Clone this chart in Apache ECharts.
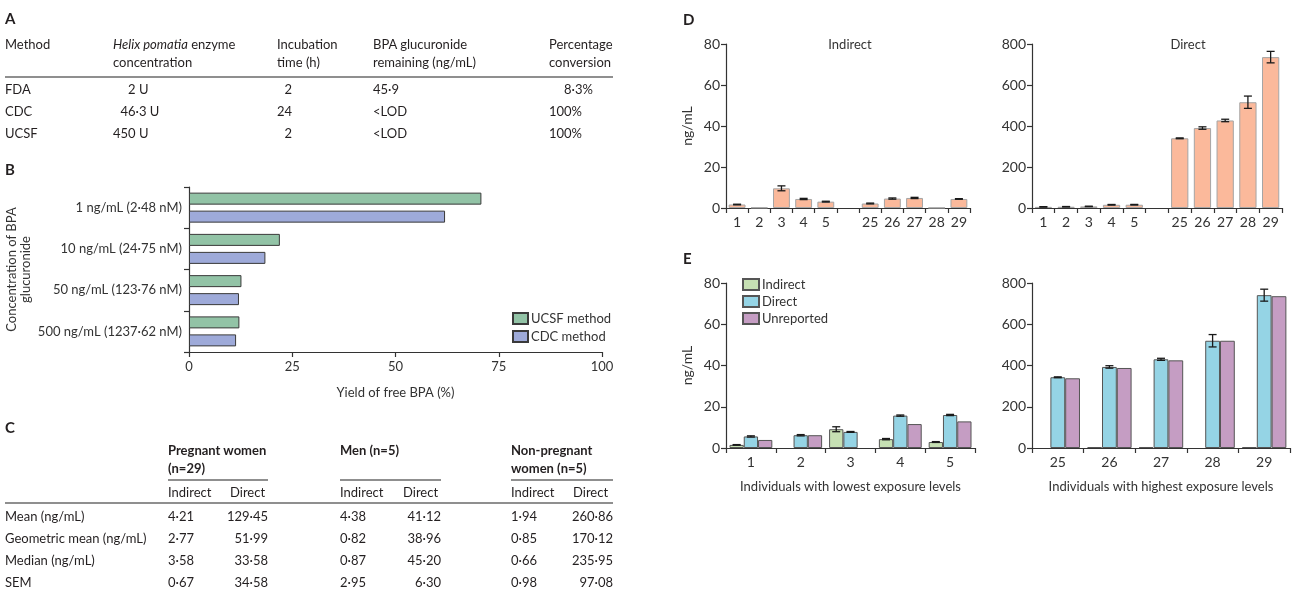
<!DOCTYPE html>
<html lang="en">
<head>
<meta charset="UTF-8">
<title>BPA glucuronide hydrolysis</title>
<style>
  html, body { margin: 0; padding: 0; background: #fff; }
  body { width: 1292px; height: 604px; position: relative; overflow: hidden;
         font-family: Lato, "Noto Sans", sans-serif; color: #231f20; font-size: 13px; }
  #chart { position: absolute; left: 0; top: 0; width: 1292px; height: 604px; }
  .t { position: absolute; white-space: pre; line-height: 16px; }
  .b { font-weight: bold; }
  .letter { position: absolute; font-weight: bold; font-size: 15px; line-height: 18px; }
  .rule { position: absolute; height: 2px; background: #8f8f8f; }
</style>
</head>
<body>
<div id="chart"></div>
<div id="tables"></div>

<script src="https://cdn.jsdelivr.net/npm/echarts@6/dist/echarts.min.js"></script>
<script>
// ---- A: enzyme methods table
var methodHead1 = ['Method', 'Helix pomatia enzyme', 'Incubation', 'BPA glucuronide', 'Percentage'];
var methodHead2 = ['', 'concentration', 'time (h)', 'remaining (ng/mL)', 'conversion'];
var methodRows = [
    ['FDA', '\u2007\u20072 U', '\u20072', '45·9', '\u2007\u20078·3%'],
    ['CDC', '\u200746·3 U', '24', '<LOD', '100%'],
    ['UCSF', '450 U', '\u20072', '<LOD', '100%']
];

// ---- B: yield of free BPA (%)
var concLabels = ['1 ng/mL (2·48 nM)', '10 ng/mL (24·75 nM)', '50 ng/mL (123·76 nM)', '500 ng/mL (1237·62 nM)'];
var ucsfYield = [70.8, 22.0, 12.7, 12.2];
var cdcYield = [62.0, 18.5, 12.1, 11.4];

// ---- C: summary statistics
var statGroups = ['Pregnant women\n(n=29)', 'Men (n=5)', 'Non-pregnant\nwomen (n=5)'];
var statNames = ['Mean (ng/mL)', 'Geometric mean (ng/mL)', 'Median (ng/mL)', 'SEM'];
var statRows = [
    ['4·21', '129·45', '4·38', '41·12', '1·94', '260·86'],
    ['2·77', '51·99', '0·82', '38·96', '0·85', '170·12'],
    ['3·58', '33·58', '0·87', '45·20', '0·66', '235·95'],
    ['0·67', '34·58', '2·95', '6·30', '0·98', '97·08']
];

// ---- D: indirect / direct, per individual
var dCats = ['1', '2', '3', '4', '5', '', '25', '26', '27', '28', '29'];
var dIndirect = [1.7, 0.2, 9.6, 4.4, 3.1, '-', 2.2, 4.6, 4.9, 0.1, 4.4];
var dIndirectErr = [0.15, 0, 1.2, 0.3, 0.2, 0, 0.2, 0.3, 0.3, 0, 0.15];
var dDirect = [5.5, 6.2, 7.8, 15.7, 16.0, '-', 340, 390, 427, 516, 736];
var dDirectErr = [1, 1, 1, 1.5, 1.5, 0, 2, 6, 6, 30, 28];

// ---- E: lowest / highest exposure
var eLowCats = ['1', '2', '3', '4', '5'];
var eLowIndirect = [1.5, '-', 9.1, 4.3, 2.9];
var eLowIndirectErr = [0.15, 0, 1.2, 0.3, 0.2];
var eLowDirect = [5.6, 6.2, 7.8, 15.7, 16.0];
var eLowDirectErr = [0.3, 0.3, 0.2, 0.3, 0.3];
var eLowUnrep = [3.9, 6.2, '-', 11.6, 12.9];

var eHighCats = ['25', '26', '27', '28', '29'];
var eHighIndirect = ['-', 4.6, 4.9, '-', 4.4];
var eHighDirect = [343, 393, 430, 520, 741];
var eHighDirectErr = [2, 6, 5, 30, 29];
var eHighUnrep = [338, 388, 425, 520, 736];

// ================= tables (html text)
var box = document.getElementById('tables');

function put(text, x, y, cls, alignRight) {
    var d = document.createElement('div');
    d.className = 't' + (cls ? ' ' + cls : '');
    d.textContent = text;
    if (alignRight) d.style.right = (1292 - x) + 'px';
    else d.style.left = x + 'px';
    d.style.top = (y - 8) + 'px';
    box.appendChild(d);
    return d;
}
function rule(x1, x2, y) {
    var r = document.createElement('div');
    r.className = 'rule';
    r.style.left = x1 + 'px';
    r.style.width = (x2 - x1) + 'px';
    r.style.top = (y - 1) + 'px';
    box.appendChild(r);
}
function letter(t, x, y) {
    var d = document.createElement('div');
    d.className = 'letter';
    d.textContent = t;
    d.style.left = x + 'px';
    d.style.top = (y - 9) + 'px';
    box.appendChild(d);
}

letter('A', 5, 18);
letter('B', 5, 169);
letter('C', 5, 427);
letter('D', 683, 19);
letter('E', 683, 258);

// table A
var colA = [5, 113, 277, 373, 549];
methodHead1.forEach(function (h, i) {
    var d = put(h, colA[i], 44);
    if (i === 1) d.innerHTML = '<i>Helix pomatia</i> enzyme';
});
methodHead2.forEach(function (h, i) { put(h, colA[i], 62); });
rule(5, 613, 77);
var rowA = [89, 111, 133];
methodRows.forEach(function (row, r) {
    row.forEach(function (c, i) { put(c, colA[i], rowA[r]); });
});

// table C
var grpX = [168, 340, 511];
var grpEnd = [268, 441, 613];
var directX = [230, 403, 573];
statGroups.forEach(function (g, i) {
    var lines = g.split('\n');
    lines.forEach(function (l, k) { put(l, grpX[i], 450 + k * 18, 'b'); });
    rule(grpX[i], grpEnd[i], 480);
    put('Indirect', grpX[i], 492);
    put('Direct', directX[i], 492);
});
rule(5, 613, 503);
var rowC = [516, 538, 560, 582];
statNames.forEach(function (n, r) {
    put(n, 5, rowC[r]);
    for (var g = 0; g < 3; g++) {
        put(statRows[r][g * 2], grpX[g], rowC[r]);
        put(statRows[r][g * 2 + 1], grpEnd[g], rowC[r], '', true);
    }
});

// ================= charts
var ink = '#333';
var font = 'Lato';

function valAxis(grid, max, step, name, size) {
    size = size || 14;
    return {
        type: 'value', gridIndex: grid, min: 0, max: max, interval: step,
        axisLine: { show: true, lineStyle: { color: ink, width: 1.2 } },
        axisTick: { show: true, length: 5, lineStyle: { color: ink, width: 1.2 } },
        splitLine: { show: false },
        axisLabel: { margin: 6, color: ink, fontSize: size, fontFamily: font },
        name: name || '', nameLocation: 'middle', nameRotate: 90, nameGap: 32,
        nameTextStyle: { color: ink, fontSize: 14, fontFamily: font }
    };
}
function catAxis(grid, cats, name, size) {
    size = size || 14;
    return {
        type: 'category', gridIndex: grid, data: cats,
        axisLine: { show: true, lineStyle: { color: ink, width: 1.2 } },
        axisTick: { show: true, length: 5, alignWithLabel: false, lineStyle: { color: ink, width: 1.2 } },
        axisLabel: { margin: 7, interval: 0, color: ink, fontSize: size, fontFamily: font },
        name: name || '', nameLocation: 'middle', nameGap: 32,
        nameTextStyle: { color: ink, fontSize: 13, fontFamily: font }
    };
}

function errorBars(grid, values, errs, nSeries, pos, gapFrac) {
    var data = [];
    values.forEach(function (v, i) {
        if (v === '-' || !errs[i]) return;
        data.push([i, v, errs[i]]);
    });
    return {
        type: 'custom', xAxisIndex: grid, yAxisIndex: grid, z: 10, silent: true,
        encode: { x: 0, y: 1 },
        renderItem: function (params, api) {
            var i = api.value(0), v = api.value(1), e = api.value(2);
            var band = api.size([1, 0])[0];
            var barW = band * (1 - gapFrac) / nSeries;
            var dx = (pos - (nSeries - 1) / 2) * barW;
            var hi = api.coord([i, v + e]);
            var lo = api.coord([i, Math.max(v - e, 0)]);
            var x = hi[0] + dx, h = 4;
            var st = { stroke: '#1a1a1a', lineWidth: 1.3 };
            return {
                type: 'group', children: [
                    { type: 'line', shape: { x1: x, y1: hi[1], x2: x, y2: lo[1] }, style: st },
                    { type: 'line', shape: { x1: x - h, y1: hi[1], x2: x + h, y2: hi[1] }, style: st },
                    { type: 'line', shape: { x1: x - h, y1: lo[1], x2: x + h, y2: lo[1] }, style: st }
                ]
            };
        },
        data: data
    };
}

var salmon = { color: '#fbb99b', borderColor: '#a5a5a5', borderWidth: 1 };
var cGreen = { color: '#c6e0b3', borderColor: '#555', borderWidth: 1 };
var cBlue = { color: '#95d4e5', borderColor: '#555', borderWidth: 1 };
var cPurple = { color: '#c59dc3', borderColor: '#555', borderWidth: 1 };

function eBar(name, grid, data, style) {
    return {
        name: name, type: 'bar', xAxisIndex: grid, yAxisIndex: grid, data: data,
        barGap: '0%', barCategoryGap: '14%', itemStyle: style
    };
}

var bY = catAxis(0, concLabels, '', 13);
bY.inverse = true;
bY.name = 'Concentration of BPA\nglucuronide';
bY.nameRotate = 90;
bY.nameGap = 156;
bY.nameTextStyle.lineHeight = 14;

var bX = valAxis(0, 100, 25, '', 13);
bX.nameRotate = 0;
bX.name = 'Yield of free BPA (%)';
bX.nameGap = 34;
bX.nameTextStyle.fontSize = 13;
bX.axisLabel.margin = 8;

var option = {
    animation: false,
    backgroundColor: 'transparent',
    textStyle: { fontFamily: font },
    grid: [
        { left: 189, top: 187, width: 413, height: 165 },
        { left: 726, top: 44, width: 244, height: 164 },
        { left: 1032, top: 44, width: 250, height: 164 },
        { left: 726, top: 283, width: 249, height: 165 },
        { left: 1032, top: 283, width: 258, height: 165 }
    ],
    xAxis: [
        bX,
        catAxis(1, dCats),
        catAxis(2, dCats),
        catAxis(3, eLowCats, 'Individuals with lowest exposure levels'),
        catAxis(4, eHighCats, 'Individuals with highest exposure levels')
    ],
    yAxis: [
        bY,
        valAxis(1, 80, 20, 'ng/mL'),
        valAxis(2, 800, 200),
        valAxis(3, 80, 20, 'ng/mL'),
        valAxis(4, 800, 200)
    ],
    legend: [
        {
            left: 507, top: 307, orient: 'vertical', icon: 'rect', itemWidth: 15, itemHeight: 11,
            itemGap: 5, selectedMode: false, data: ['UCSF method', 'CDC method'],
            textStyle: { color: ink, fontSize: 13, fontFamily: font, padding: [0, 0, 0, -2] }
        },
        {
            left: 737, top: 273, orient: 'vertical', icon: 'rect', itemWidth: 16, itemHeight: 11,
            itemGap: 4, selectedMode: false, data: ['Indirect', 'Direct', 'Unreported'],
            textStyle: { color: ink, fontSize: 13, fontFamily: font, padding: [0, 0, 0, -2] }
        }
    ],
    graphic: [
        { type: 'text', x: 850, y: 45, style: { text: 'Indirect', fill: ink, font: '13px Lato', align: 'center', verticalAlign: 'middle' } },
        { type: 'text', x: 1188, y: 45, style: { text: 'Direct', fill: ink, font: '13px Lato', align: 'center', verticalAlign: 'middle' } }
    ],
    series: [
        {
            name: 'UCSF method', type: 'bar', xAxisIndex: 0, yAxisIndex: 0, data: ucsfYield,
            barWidth: 12, barGap: '50%',
            itemStyle: { color: '#92c3a6', borderColor: '#3a3a3a', borderWidth: 1 }
        },
        {
            name: 'CDC method', type: 'bar', xAxisIndex: 0, yAxisIndex: 0, data: cdcYield,
            barWidth: 12, barGap: '50%',
            itemStyle: { color: '#9eaad9', borderColor: '#3a3a3a', borderWidth: 1 }
        },

        { name: 'D indirect', type: 'bar', xAxisIndex: 1, yAxisIndex: 1, data: dIndirect, barCategoryGap: '24%', itemStyle: salmon },
        errorBars(1, dIndirect, dIndirectErr, 1, 0, 0.24),
        { name: 'D direct', type: 'bar', xAxisIndex: 2, yAxisIndex: 2, data: dDirect, barCategoryGap: '24%', itemStyle: salmon },
        errorBars(2, dDirect, dDirectErr, 1, 0, 0.24),

        eBar('Indirect', 3, eLowIndirect, cGreen),
        eBar('Direct', 3, eLowDirect, cBlue),
        eBar('Unreported', 3, eLowUnrep, cPurple),
        errorBars(3, eLowIndirect, eLowIndirectErr, 3, 0, 0.14),
        errorBars(3, eLowDirect, eLowDirectErr, 3, 1, 0.14),

        eBar('Indirect', 4, eHighIndirect, cGreen),
        eBar('Direct', 4, eHighDirect, cBlue),
        eBar('Unreported', 4, eHighUnrep, cPurple),
        errorBars(4, eHighDirect, eHighDirectErr, 3, 1, 0.14)
    ]
};

var chart = echarts.init(document.getElementById('chart'), null, { renderer: 'canvas' });
chart.setOption(option);
</script>
</body>
</html>
